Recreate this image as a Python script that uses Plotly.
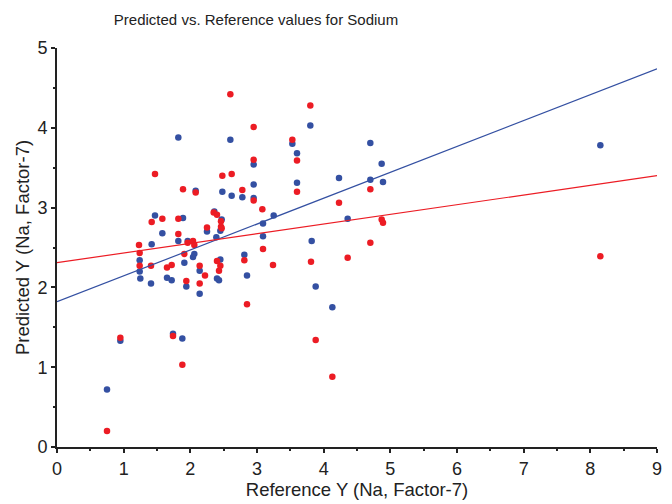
import plotly.graph_objects as go

# Blue series (reference x, predicted y)
blue_x = [0.75, 0.95, 1.24, 1.24, 1.25, 1.41, 1.42, 1.47, 1.58, 1.65, 1.72, 1.74, 1.82, 1.82,
          1.88, 1.89, 1.91, 1.94, 1.96, 2.04, 2.06, 2.08, 2.14, 2.14, 2.25, 2.36, 2.39, 2.40, 2.43,
          2.45, 2.45, 2.47, 2.48, 2.60, 2.62, 2.78, 2.81, 2.85, 2.95, 2.95, 2.95, 3.09,
          3.09, 3.25, 3.53, 3.60, 3.60, 3.80, 3.82, 3.88, 4.13, 4.23, 4.36, 4.70, 4.70,
          4.87, 4.89, 8.15]
blue_y = [0.72, 1.33, 2.34, 2.20, 2.11, 2.05, 2.54, 2.90, 2.68, 2.12, 2.09, 1.42, 3.88, 2.58,
          1.36, 2.87, 2.31, 2.01, 2.58, 2.38, 2.42, 3.21, 2.21, 1.92, 2.70, 2.95, 2.63, 2.11, 2.09,
          2.35, 2.71, 2.85, 3.20, 3.85, 3.15, 3.13, 2.41, 2.15, 3.54, 3.29, 3.12, 2.80,
          2.64, 2.90, 3.80, 3.68, 3.31, 4.03, 2.58, 2.01, 1.75, 3.37, 2.86, 3.81, 3.35,
          3.55, 3.32, 3.78]

# Red series
red_x = [0.75, 0.95, 1.23, 1.24, 1.24, 1.41, 1.42, 1.47, 1.58, 1.65, 1.72, 1.74, 1.82, 1.82,
         1.88, 1.89, 1.91, 1.94, 1.96, 2.04, 2.06, 2.08, 2.14, 2.14, 2.22, 2.25, 2.35, 2.40,
         2.40, 2.43, 2.45, 2.46, 2.46, 2.47, 2.48, 2.60, 2.62, 2.78, 2.81, 2.85, 2.95, 2.95,
         2.95, 3.08, 3.09, 3.24, 3.53, 3.60, 3.60, 3.80, 3.81, 3.88, 4.13, 4.23, 4.36, 4.70,
         4.70, 4.87, 4.89, 8.15]
red_y = [0.20, 1.37, 2.53, 2.43, 2.27, 2.27, 2.82, 3.42, 2.86, 2.25, 2.28, 1.39, 2.86, 2.67,
         1.03, 3.23, 2.42, 2.08, 2.56, 2.58, 2.53, 3.19, 2.27, 2.05, 2.15, 2.75, 2.94, 2.91,
         2.33, 2.21, 2.27, 2.83, 2.76, 2.74, 3.40, 4.42, 3.42, 3.22, 2.34, 1.79, 4.01, 3.60,
         3.09, 2.98, 2.48, 2.28, 3.85, 3.59, 3.20, 4.28, 2.32, 1.34, 0.88, 3.06, 2.37, 3.23,
         2.56, 2.85, 2.81, 2.39]

# Regression lines (at x=0 and x=9)
line_x = [0, 9]
blue_line_y = [1.82, 4.74]
red_line_y = [2.31, 3.40]

BLUE = "#3450a2"
RED = "#ec1c24"
FONT = "Liberation Sans, Arial, sans-serif"
INK = "#222222"

fig = go.Figure()
fig.add_trace(go.Scatter(x=blue_x, y=blue_y, mode="markers",
                         marker=dict(color=BLUE, size=6.5, line=dict(width=0)),
                         showlegend=False, cliponaxis=False))
fig.add_trace(go.Scatter(x=red_x, y=red_y, mode="markers",
                         marker=dict(color=RED, size=6.5, line=dict(width=0)),
                         showlegend=False, cliponaxis=False))
fig.add_trace(go.Scatter(x=line_x, y=blue_line_y, mode="lines",
                         line=dict(color=BLUE, width=1.2), showlegend=False))
fig.add_trace(go.Scatter(x=line_x, y=red_line_y, mode="lines",
                         line=dict(color=RED, width=1.2), showlegend=False))

axis_common = dict(
    showgrid=False, zeroline=False, showline=True, linecolor=INK, linewidth=2,
    ticks="outside", ticklen=4, tickwidth=2, tickcolor=INK,
    tickfont=dict(family=FONT, size=18, color=INK),
    mirror=False,
)

fig.update_layout(
    width=672, height=504,
    margin=dict(l=57, r=10, t=48, b=53),
    paper_bgcolor="white", plot_bgcolor="white",
    title=dict(text="Predicted vs. Reference values for Sodium",
               x=256 / 672, xanchor="center", y=1 - 20 / 504, yanchor="middle",
               font=dict(family=FONT, size=15, color=INK)),
    xaxis=dict(axis_common, range=[0, 9], dtick=1, tick0=0,
               minor=dict(dtick=0.5, ticks="outside", ticklen=2, tickwidth=2, tickcolor=INK),
               title=dict(text="Reference Y (Na, Factor-7)", standoff=2,
                          font=dict(family=FONT, size=18.5, color=INK))),
    yaxis=dict(axis_common, range=[0, 5], dtick=1, tick0=0,
               minor=dict(dtick=0.5, ticks="outside", ticklen=2, tickwidth=2, tickcolor=INK),
               title=dict(text="Predicted Y (Na, Factor-7)", standoff=3,
                          font=dict(family=FONT, size=18.5, color=INK))),
)

fig.write_html("out.html")
